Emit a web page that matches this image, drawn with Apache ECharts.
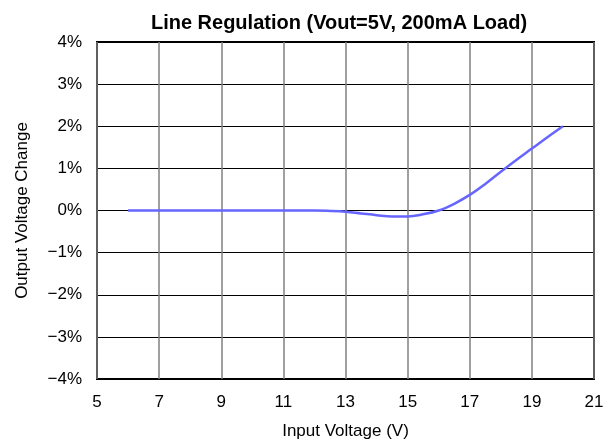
<!DOCTYPE html>
<html>
<head>
<meta charset="utf-8">
<script src="https://cdn.jsdelivr.net/npm/echarts@6/dist/echarts.min.js"></script>
<style>
  html, body { margin: 0; padding: 0; background: #fff; }
  #main { width: 613px; height: 445px; }
</style>
</head>
<body>
<div id="main"></div>
<script>
// input voltage (V) and output change (%)
var vin = [6, 8, 10, 12, 12.5, 13, 13.5, 14, 14.5, 15, 15.5, 16, 16.5, 17, 17.5, 18, 18.5, 19, 19.5, 20];
var dvout = [0, 0, 0, 0, -0.01, -0.03, -0.07, -0.11, -0.14, -0.14, -0.09, 0.0, 0.16, 0.37, 0.63, 0.92, 1.2, 1.47, 1.74, 2.0];
var yTicks = ['−4%', '−3%', '−2%', '−1%', '0%', '1%', '2%', '3%', '4%'];

var chart = echarts.init(document.getElementById('main'));
var font = 'Liberation Sans, Arial, sans-serif';

chart.setOption({
  animation: false,
  title: {
    text: 'Line Regulation (Vout=5V, 200mA Load)',
    left: 334,
    textAlign: 'center',
    top: 8,
    textStyle: { fontFamily: font, fontSize: 20, fontWeight: 'bold', color: '#000' }
  },
  grid: {
    left: 97, right: 19, top: 42, bottom: 66,
    show: true, borderColor: '#000', borderWidth: 2, backgroundColor: 'transparent'
  },
  xAxis: {
    type: 'value', min: 5, max: 21, interval: 2,
    name: 'Input Voltage (V)', nameLocation: 'middle', nameGap: 44,
    nameTextStyle: { fontFamily: font, fontSize: 17, color: '#000' },
    axisLine: { show: false }, axisTick: { show: false },
    axisLabel: { fontFamily: font, fontSize: 17, color: '#000', margin: 15 },
    splitLine: { show: true, lineStyle: { color: '#808080', width: 1.5 } }
  },
  yAxis: {
    type: 'value', min: -4, max: 4, interval: 1,
    name: 'Output Voltage Change', nameLocation: 'middle', nameGap: 66,
    nameTextStyle: { fontFamily: font, fontSize: 17, color: '#000' },
    axisLine: { show: false }, axisTick: { show: false },
    axisLabel: {
      fontFamily: font, fontSize: 17, color: '#000', margin: 15,
      formatter: function (v) { return yTicks[Math.round(v) + 4]; }
    },
    splitLine: { show: true, lineStyle: { color: '#000', width: 1 } }
  },
  series: [{
    type: 'line',
    data: vin.map(function (x, i) { return [x, dvout[i]]; }),
    smooth: 0.4,
    showSymbol: false,
    lineStyle: { color: '#6666ff', width: 2.5 }
  }]
});
</script>
</body>
</html>
